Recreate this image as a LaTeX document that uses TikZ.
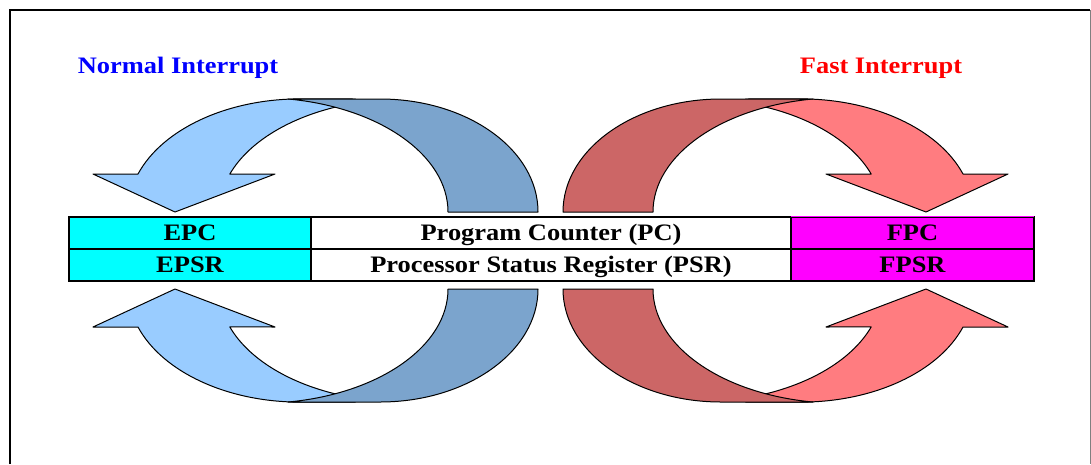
\documentclass[tikz,border=0pt]{standalone}
\usepackage{fontspec}
\setmainfont{Liberation Serif}[FakeStretch=1.12]
\definecolor{lblue}{HTML}{99CCFF}
\definecolor{dblue}{HTML}{7BA4CD}
\definecolor{lred}{HTML}{FF7C80}
\definecolor{dred}{HTML}{CC6666}
\definecolor{cyanc}{HTML}{00FFFF}
\definecolor{magc}{HTML}{FF00FF}
\tikzset{
  shapeline/.style={draw=black, line width=1pt, line join=round},
  cell/.style={draw=black, line width=1.3pt, minimum height=32pt, inner sep=0pt,
    text height=15.5pt, text depth=0pt, font=\fontsize{23.6}{28}\selectfont\bfseries},
  title/.style={anchor=base, inner sep=0pt, font=\fontsize{23.6}{28}\selectfont\bfseries}
}
% one bent arrow, drawn in image coordinates (top-left instance)
\newcommand{\bentarrow}[2]{%
  \path[shapeline, fill=#1] (138,174)
    arc[start angle=-160.4, end angle=-90, x radius=172, y radius=113]
    -- (355.4,99) -- (355.4,103)
    arc[start angle=-105.25, end angle=-160.4, x radius=185, y radius=113]
    -- (275,174) -- (175,212) -- (93,174) -- cycle;
  \path[shapeline, fill=#2] (288,99) -- (380,99)
    arc[start angle=-90, end angle=0, x radius=158, y radius=113]
    -- (448,212)
    arc[start angle=0, end angle=-81.4, x radius=188, y radius=114.3]
    -- cycle;
}
\begin{document}
\begin{tikzpicture}[x=1pt, y=-1pt]
\useasboundingbox (0,0) rectangle (1091,464);
% frame
\coordinate (ftl) at (10,10);
\coordinate (ftr) at (1090,10);
\coordinate (fbl) at (10,464);
\coordinate (fbr) at (1090,464);
\draw[gray, line width=0.8pt] (ftr) -- (fbr);
\draw[black, line width=1.6pt] (fbl) -- (ftl) -- (ftr);
% titles
\node[title, text=blue] (normal) at (178,73) {Normal Interrupt};
\node[title, text=red] (fast) at (881,73) {Fast Interrupt};
% arrows
\bentarrow{lblue}{dblue}
\begin{scope}[shift={(1101,0)}, xscale=-1]
  \bentarrow{lred}{dred}
\end{scope}
\begin{scope}[shift={(0,501)}, yscale=-1]
  \bentarrow{lblue}{dblue}
\end{scope}
\begin{scope}[shift={(1101,501)}, xscale=-1, yscale=-1]
  \bentarrow{lred}{dred}
\end{scope}
% register table
\node[cell, fill=cyanc, minimum width=242pt] (epc) at (190,233) {EPC};
\node[cell, fill=white, minimum width=480pt] (pc) at (551,233) {Program Counter (PC)};
\node[cell, fill=magc, minimum width=243pt] (fpc) at (912.5,233) {FPC};
\node[cell, fill=cyanc, minimum width=242pt] (epsr) at (190,265) {EPSR};
\node[cell, fill=white, minimum width=480pt] (psr) at (551,265) {Processor Status Register (PSR)};
\node[cell, fill=magc, minimum width=243pt] (fpsr) at (912.5,265) {FPSR};
\draw[magc, line width=1.3pt] ([xshift=0.7pt]fpc.north west) -- ([xshift=-0.7pt]fpc.north east);
\end{tikzpicture}
\end{document}
